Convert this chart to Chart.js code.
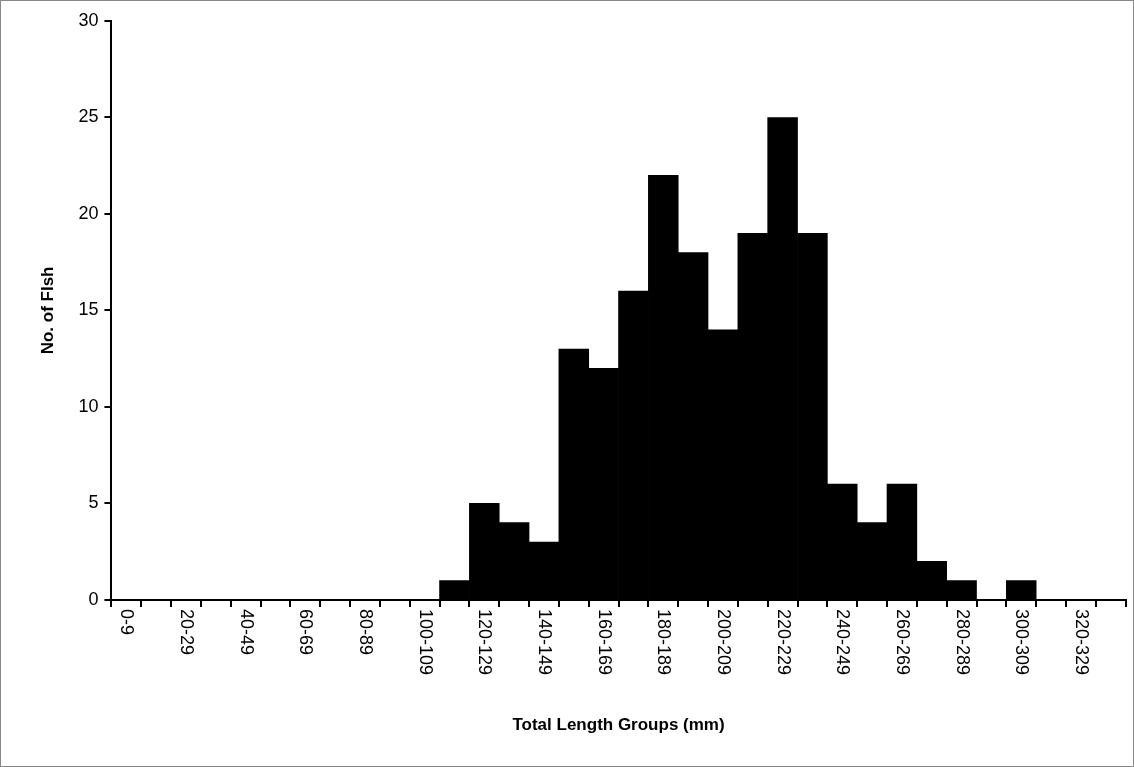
<!DOCTYPE html>
<html><head>
<script src="https://cdn.jsdelivr.net/npm/chart.js@4"></script>
<style>
body{margin:0;background:#fff;}
#wrap{position:absolute;left:0;top:0;width:1132px;height:765px;border:1px solid #888;}
</style>
</head><body>
<div id="wrap"><canvas id="c" width="1132" height="765"></canvas></div>
<script>
const groups = [];
for (let i = 0; i < 34; i++) groups.push((i * 10) + '-' + (i * 10 + 9));
const fishCounts = [0,0,0,0,0,0,0,0,0,0,0,1,5,4,3,13,12,16,22,18,14,19,25,19,6,4,6,2,1,0,1,0,0,0];
const yTicks = [0,5,10,15,20,25,30];

// draw x labels reading downward, starting under the axis
const downLabels = {
    id: 'downLabels',
    afterDraw(chart) {
        const x = chart.scales.x, c = chart.ctx;
        c.save();
        c.fillStyle = '#000';
        c.font = '18px "Liberation Sans"';
        c.textAlign = 'left';
        c.textBaseline = 'middle';
        groups.forEach((g, i) => {
            if (i % 2) return;
            c.save();
            c.translate(x.getPixelForValue(i), x.top + 9);
            c.rotate(Math.PI / 2);
            c.fillText(g, 0, 0);
            c.restore();
        });
        c.restore();
    }
};

const ctx = document.getElementById('c').getContext('2d');
new Chart(ctx, {
    type: 'bar',
    data: {
        labels: groups,
        datasets: [{
            data: fishCounts,
            backgroundColor: '#000',
            borderWidth: 0,
            barPercentage: 1,
            categoryPercentage: 1
        }]
    },
    options: {
        responsive: false,
        animation: false,
        layout: {padding: {left: 33, top: 20, right: 4, bottom: 30}},
        plugins: {legend: {display: false}, tooltip: {enabled: false}},
        scales: {
            x: {
                grid: {display: true, drawOnChartArea: false, color: '#000', lineWidth: 2, tickLength: 7, offset: true},
                border: {color: '#000', width: 2},
                ticks: {
                    autoSkip: false, maxRotation: 90, minRotation: 90,
                    color: 'rgba(0,0,0,0)', font: {family: 'Liberation Sans', size: 16},
                    callback: function(v, i) { return i % 2 === 0 ? groups[i] : ''; }
                },
                title: {display: true, text: 'Total Length Groups (mm)', color: '#000', padding: {top: 44, bottom: 0},
                        font: {family: 'Liberation Sans', size: 17, weight: 'bold'}}
            },
            y: {
                min: 0, max: 30,
                afterBuildTicks: function(a) { a.ticks = yTicks.map(v => ({value: v})); },
                grid: {display: true, drawOnChartArea: false, color: '#000', lineWidth: 2, tickLength: 7},
                border: {color: '#000', width: 2},
                ticks: {color: '#000', padding: 6, font: {family: 'Liberation Sans', size: 18}},
                title: {display: true, text: 'No. of FIsh', color: '#000', padding: {bottom: 14},
                        font: {family: 'Liberation Sans', size: 17, weight: 'bold'}}
            }
        }
    },
    plugins: [downLabels]
});
</script>
</body></html>
